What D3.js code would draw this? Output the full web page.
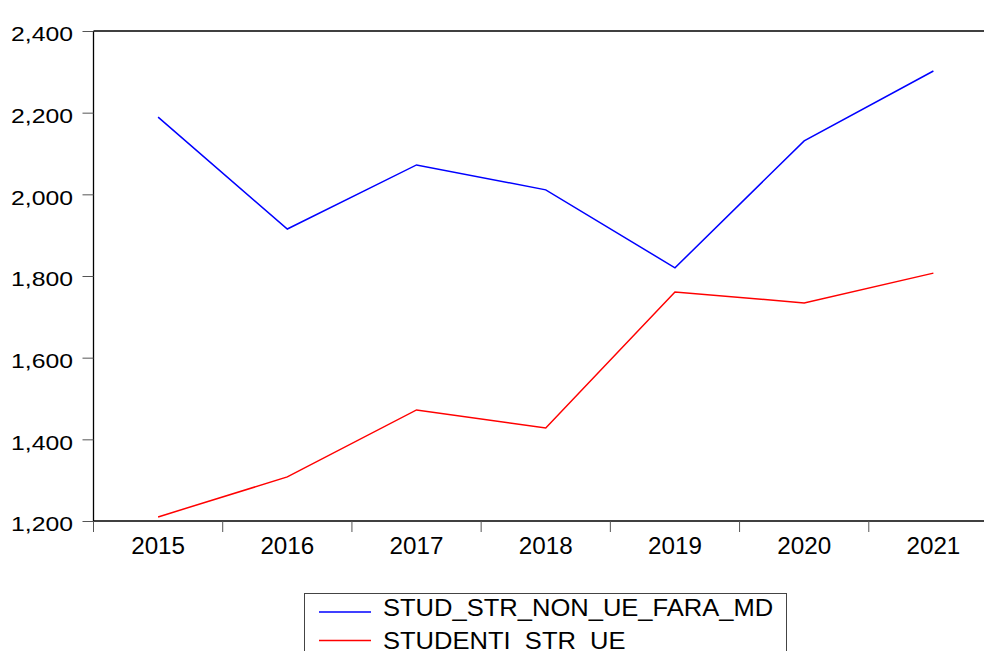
<!DOCTYPE html>
<html lang="en">
<head>
<meta charset="UTF-8">
<title>Studenti straini</title>
<style>
  body { margin: 0; background: #fff; }
  svg { display: block; }
  text { font-family: "Liberation Sans", Arial, sans-serif; fill: #000; }
</style>
</head>
<body>
<script src="https://d3js.org/d3.v7.min.js"></script>
<script>
// data
const years = ["2015", "2016", "2017", "2018", "2019", "2020", "2021"];
const nonUe = [2189, 1915, 2072, 2011, 1820, 2131, 2302];
const ue = [1210, 1308, 1472, 1428, 1761, 1734, 1807];
const yTicks = [1200, 1400, 1600, 1800, 2000, 2200, 2400];
const seriesNames = ["STUD_STR_NON_UE_FARA_MD", "STUDENTI_STR_UE"];
const seriesColors = ["#0000ff", "#ff0000"];

const width = 984, height = 651;
const plotLeft = 93.5, plotTop = 31, plotBottom = 521, plotRight = 998;

const svg = d3.select("body").append("svg")
    .attr("width", width)
    .attr("height", height);

// the original text is stretched sideways, mimic it
function stretch(sel, factor) {
    sel.each(function() {
        const w = this.getComputedTextLength();
        d3.select(this).attr("textLength", w * factor).attr("lengthAdjust", "spacingAndGlyphs");
    });
}

const x = d3.scaleBand().domain(years).range([plotLeft, plotRight]).padding(0);
const y = d3.scaleLinear().domain([1200, 2400]).range([plotBottom, plotTop]);

// frame lines (left, top, bottom)
svg.append("line").attr("x1", plotLeft).attr("x2", plotLeft).attr("y1", plotTop).attr("y2", plotBottom)
    .attr("stroke", "#000").attr("stroke-width", 1.3);
svg.append("line").attr("x1", plotLeft).attr("x2", width).attr("y1", plotTop).attr("y2", plotTop)
    .attr("stroke", "#000").attr("stroke-width", 1.3);
svg.append("line").attr("x1", plotLeft).attr("x2", width).attr("y1", plotBottom).attr("y2", plotBottom)
    .attr("stroke", "#000").attr("stroke-width", 1.3);

// y axis
const yAxis = svg.append("g")
    .attr("transform", `translate(${plotLeft},0)`)
    .call(d3.axisLeft(y).tickValues(yTicks).tickFormat(d3.format(",")).tickSize(11).tickPadding(9.5));
yAxis.select(".domain").remove();
yAxis.selectAll("line").attr("stroke", "#555");
yAxis.selectAll("text")
    .attr("font-size", 19.5)
    .attr("dy", "0.5em")
    .style("font-family", "'Liberation Sans', Arial, sans-serif")
    .attr("fill", "#000")
    .call(stretch, 1.27);

// x axis: ticks at band edges, labels centered
const edges = years.map(d => x(d)).concat([x(years[years.length - 1]) + x.bandwidth()]);
svg.append("g").selectAll("line").data(edges).join("line")
    .attr("x1", d => d).attr("x2", d => d)
    .attr("y1", plotBottom).attr("y2", plotBottom + 11)
    .attr("stroke", "#555");
svg.append("g").selectAll("text").data(years).join("text")
    .attr("x", d => x(d) + x.bandwidth() / 2)
    .attr("y", 554)
    .attr("text-anchor", "middle")
    .attr("font-size", 23.5)
    .text(d => d)
    .call(stretch, 1.03);

// lines
const line = d3.line()
    .x((d, i) => x(years[i]) + x.bandwidth() / 2)
    .y(d => y(d));

[nonUe, ue].forEach((s, k) => {
    svg.append("path")
        .datum(s)
        .attr("d", line)
        .attr("fill", "none")
        .attr("stroke", seriesColors[k])
        .attr("stroke-width", 1.5);
});

// legend
const legend = svg.append("g");
legend.append("rect")
    .attr("x", 304.5).attr("y", 593.5)
    .attr("width", 482).attr("height", 70)
    .attr("fill", "#fff").attr("stroke", "#444").attr("stroke-width", 1);
seriesNames.forEach((name, k) => {
    const ly = 612 + k * 28.5;
    legend.append("line")
        .attr("x1", 319).attr("x2", 371)
        .attr("y1", ly).attr("y2", ly)
        .attr("stroke", seriesColors[k]).attr("stroke-width", 1.5);
    legend.append("text")
        .attr("x", 383).attr("y", 616 + k * 33)
        .attr("font-size", 23)
        .text(name)
        .call(stretch, 1.11);
});
</script>
</body>
</html>
